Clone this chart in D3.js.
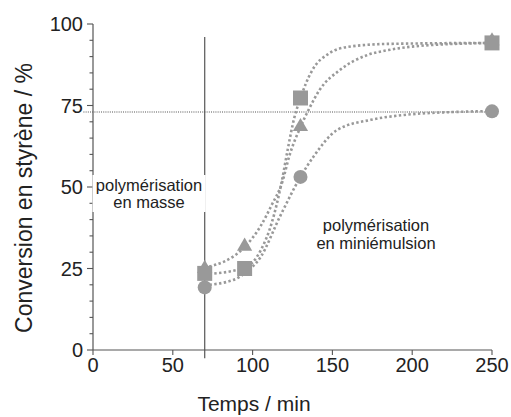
<!DOCTYPE html>
<html><head><meta charset="utf-8">
<script src="https://cdn.jsdelivr.net/npm/d3@7"></script>
<style>
html,body{margin:0;padding:0;background:#fff;}
svg{display:block;font-family:"Liberation Sans",Arial,sans-serif;}
</style></head>
<body>
<svg id="chart" width="511" height="417"></svg>
<script>
// ---- data ----
const xTicks = [0, 50, 100, 150, 200, 250];
const yTicks = [0, 25, 50, 75, 100];
const yMinorTicks = d3.range(0, 101, 5);
const xLabel = "Temps / min";
const yLabel = "Conversion en styrène / %";

// measured points
const squares   = [[70, 23.5], [95, 25], [130, 77.3], [250, 94.2]];
const triangles = [[70, 25.0], [95, 31.8], [130, 68.5], [250, 94.8]];
const circles   = [[70, 19.2], [130, 53.1], [250, 73.2]];

// fitted curves
const fitSquare = [[70, 23.2], [95, 25.2], [105, 30.5], [112, 39], [118, 51], [122, 61.5], [126, 71], [130, 77.3], [137, 85.5], [148, 91], [160, 93], [185, 93.9], [250, 94.2]];
const fitTriangle = [[70, 25.2], [95, 31.6], [105, 38], [112, 44.5], [118.6, 51.5], [123, 59.5], [130, 68.4], [135, 73.6], [142, 79.8], [155, 86], [172, 90.5], [185, 92], [205, 93.3], [250, 94.2]];
const fitCircle = [[70, 19.9], [88, 21.5], [95, 23.5], [105, 28.5], [117, 40.8], [130, 53.1], [138, 59.2], [153, 67.5], [174, 70.6], [195, 72.1], [226, 73], [250, 73.3]];

// reference lines
const plateauY = 73;
const plateauX = [-6, 250];
const separatorX = 70;
const separatorY = [-2.5, 96];

const labelMasse = ["polymérisation", "en masse"];
const labelMini = ["polymérisation", "en miniémulsion"];

// ---- drawing ----
const svg = d3.select("#chart");
const x = d3.scaleLinear().domain([0, 250]).range([93, 492]);
const y = d3.scaleLinear().domain([0, 100]).range([350, 24]);
const axisColor = "#555";
const markColor = "#999";

// plateau line
svg.append("line")
  .attr("x1", x(plateauX[0])).attr("x2", x(plateauX[1]))
  .attr("y1", y(plateauY)).attr("y2", y(plateauY))
  .attr("stroke", "#8a8a8a").attr("stroke-width", 1.3)
  .attr("stroke-dasharray", "1,1.2");

// separator line
svg.append("line")
  .attr("x1", x(separatorX)).attr("x2", x(separatorX))
  .attr("y1", y(separatorY[0])).attr("y2", y(separatorY[1]))
  .attr("stroke", "#555").attr("stroke-width", 1.2);

// y axis
const yAxisG = svg.append("g").attr("transform", `translate(${x(0)},0)`);
yAxisG.append("line").attr("x1", 0).attr("x2", 0).attr("y1", y(0)).attr("y2", y(100))
  .attr("stroke", axisColor).attr("stroke-width", 1.2);
yAxisG.selectAll("line.minor").data(yMinorTicks).enter().append("line")
  .attr("class", "minor")
  .attr("x1", d => yTicks.includes(d) ? -6 : -3.5).attr("x2", 0)
  .attr("y1", d => y(d)).attr("y2", d => y(d))
  .attr("stroke", axisColor).attr("stroke-width", 1.1);
yAxisG.selectAll("text").data(yTicks).enter().append("text")
  .attr("x", -10).attr("y", d => y(d)).attr("dy", "0.35em")
  .attr("text-anchor", "end").attr("font-size", 20).attr("fill", "#222")
  .text(d => d);

// x axis
const xAxisG = svg.append("g").attr("transform", `translate(0,${y(0)})`);
xAxisG.append("line").attr("x1", x(0)).attr("x2", x(250)).attr("y1", 0).attr("y2", 0)
  .attr("stroke", axisColor).attr("stroke-width", 1.2);
xAxisG.selectAll("line.tick").data(xTicks).enter().append("line")
  .attr("class", "tick")
  .attr("x1", d => x(d)).attr("x2", d => x(d)).attr("y1", 0).attr("y2", 5)
  .attr("stroke", axisColor).attr("stroke-width", 1.1);
xAxisG.selectAll("text").data(xTicks).enter().append("text")
  .attr("x", d => x(d)).attr("y", 22)
  .attr("text-anchor", "middle").attr("font-size", 20).attr("fill", "#222")
  .text(d => d);

// axis titles
svg.append("text").attr("x", 254).attr("y", 411)
  .attr("text-anchor", "middle").attr("font-size", 21).attr("fill", "#222")
  .text(xLabel);
svg.append("text").attr("transform", "translate(32,198) rotate(-90)")
  .attr("text-anchor", "middle").attr("font-size", 23).attr("fill", "#222")
  .text(yLabel);

// label box for "en masse"
svg.append("rect").attr("x", x(0) - 0.5).attr("y", 175).attr("width", x(separatorX) - x(0) + 1.5).attr("height", 37)
  .attr("fill", "#fff");
svg.append("text").attr("text-anchor", "middle").attr("font-size", 16.5).attr("fill", "#222")
  .selectAll("tspan").data(labelMasse).enter().append("tspan")
  .attr("x", 149).attr("y", (d, i) => 191 + i * 17).text(d => d);
svg.append("text").attr("text-anchor", "middle").attr("font-size", 16.5).attr("fill", "#222")
  .selectAll("tspan").data(labelMini).enter().append("tspan")
  .attr("x", 376).attr("y", (d, i) => 231 + i * 18).text(d => d);

// fitted curves
const line = d3.line().x(d => x(d[0])).y(d => y(d[1])).curve(d3.curveMonotoneX);
[fitSquare, fitTriangle, fitCircle].forEach(f => {
  svg.append("path").attr("d", line(f))
    .attr("fill", "none").attr("stroke", markColor)
    .attr("stroke-width", 2.6).attr("stroke-dasharray", "2.4,2.4");
});

// markers
svg.selectAll("circle.pt").data(circles).enter().append("circle")
  .attr("class", "pt").attr("cx", d => x(d[0])).attr("cy", d => y(d[1])).attr("r", 7)
  .attr("fill", markColor);
svg.selectAll("path.tri").data(triangles).enter().append("path")
  .attr("class", "tri")
  .attr("d", d3.symbol().type(d3.symbolTriangle).size(100))
  .attr("transform", d => `translate(${x(d[0])},${y(d[1])})`)
  .attr("fill", markColor);
svg.selectAll("path.sq").data(squares).enter().append("path")
  .attr("class", "sq")
  .attr("d", d3.symbol().type(d3.symbolSquare).size(225))
  .attr("transform", d => `translate(${x(d[0])},${y(d[1])})`)
  .attr("fill", markColor);
</script>
</body></html>
